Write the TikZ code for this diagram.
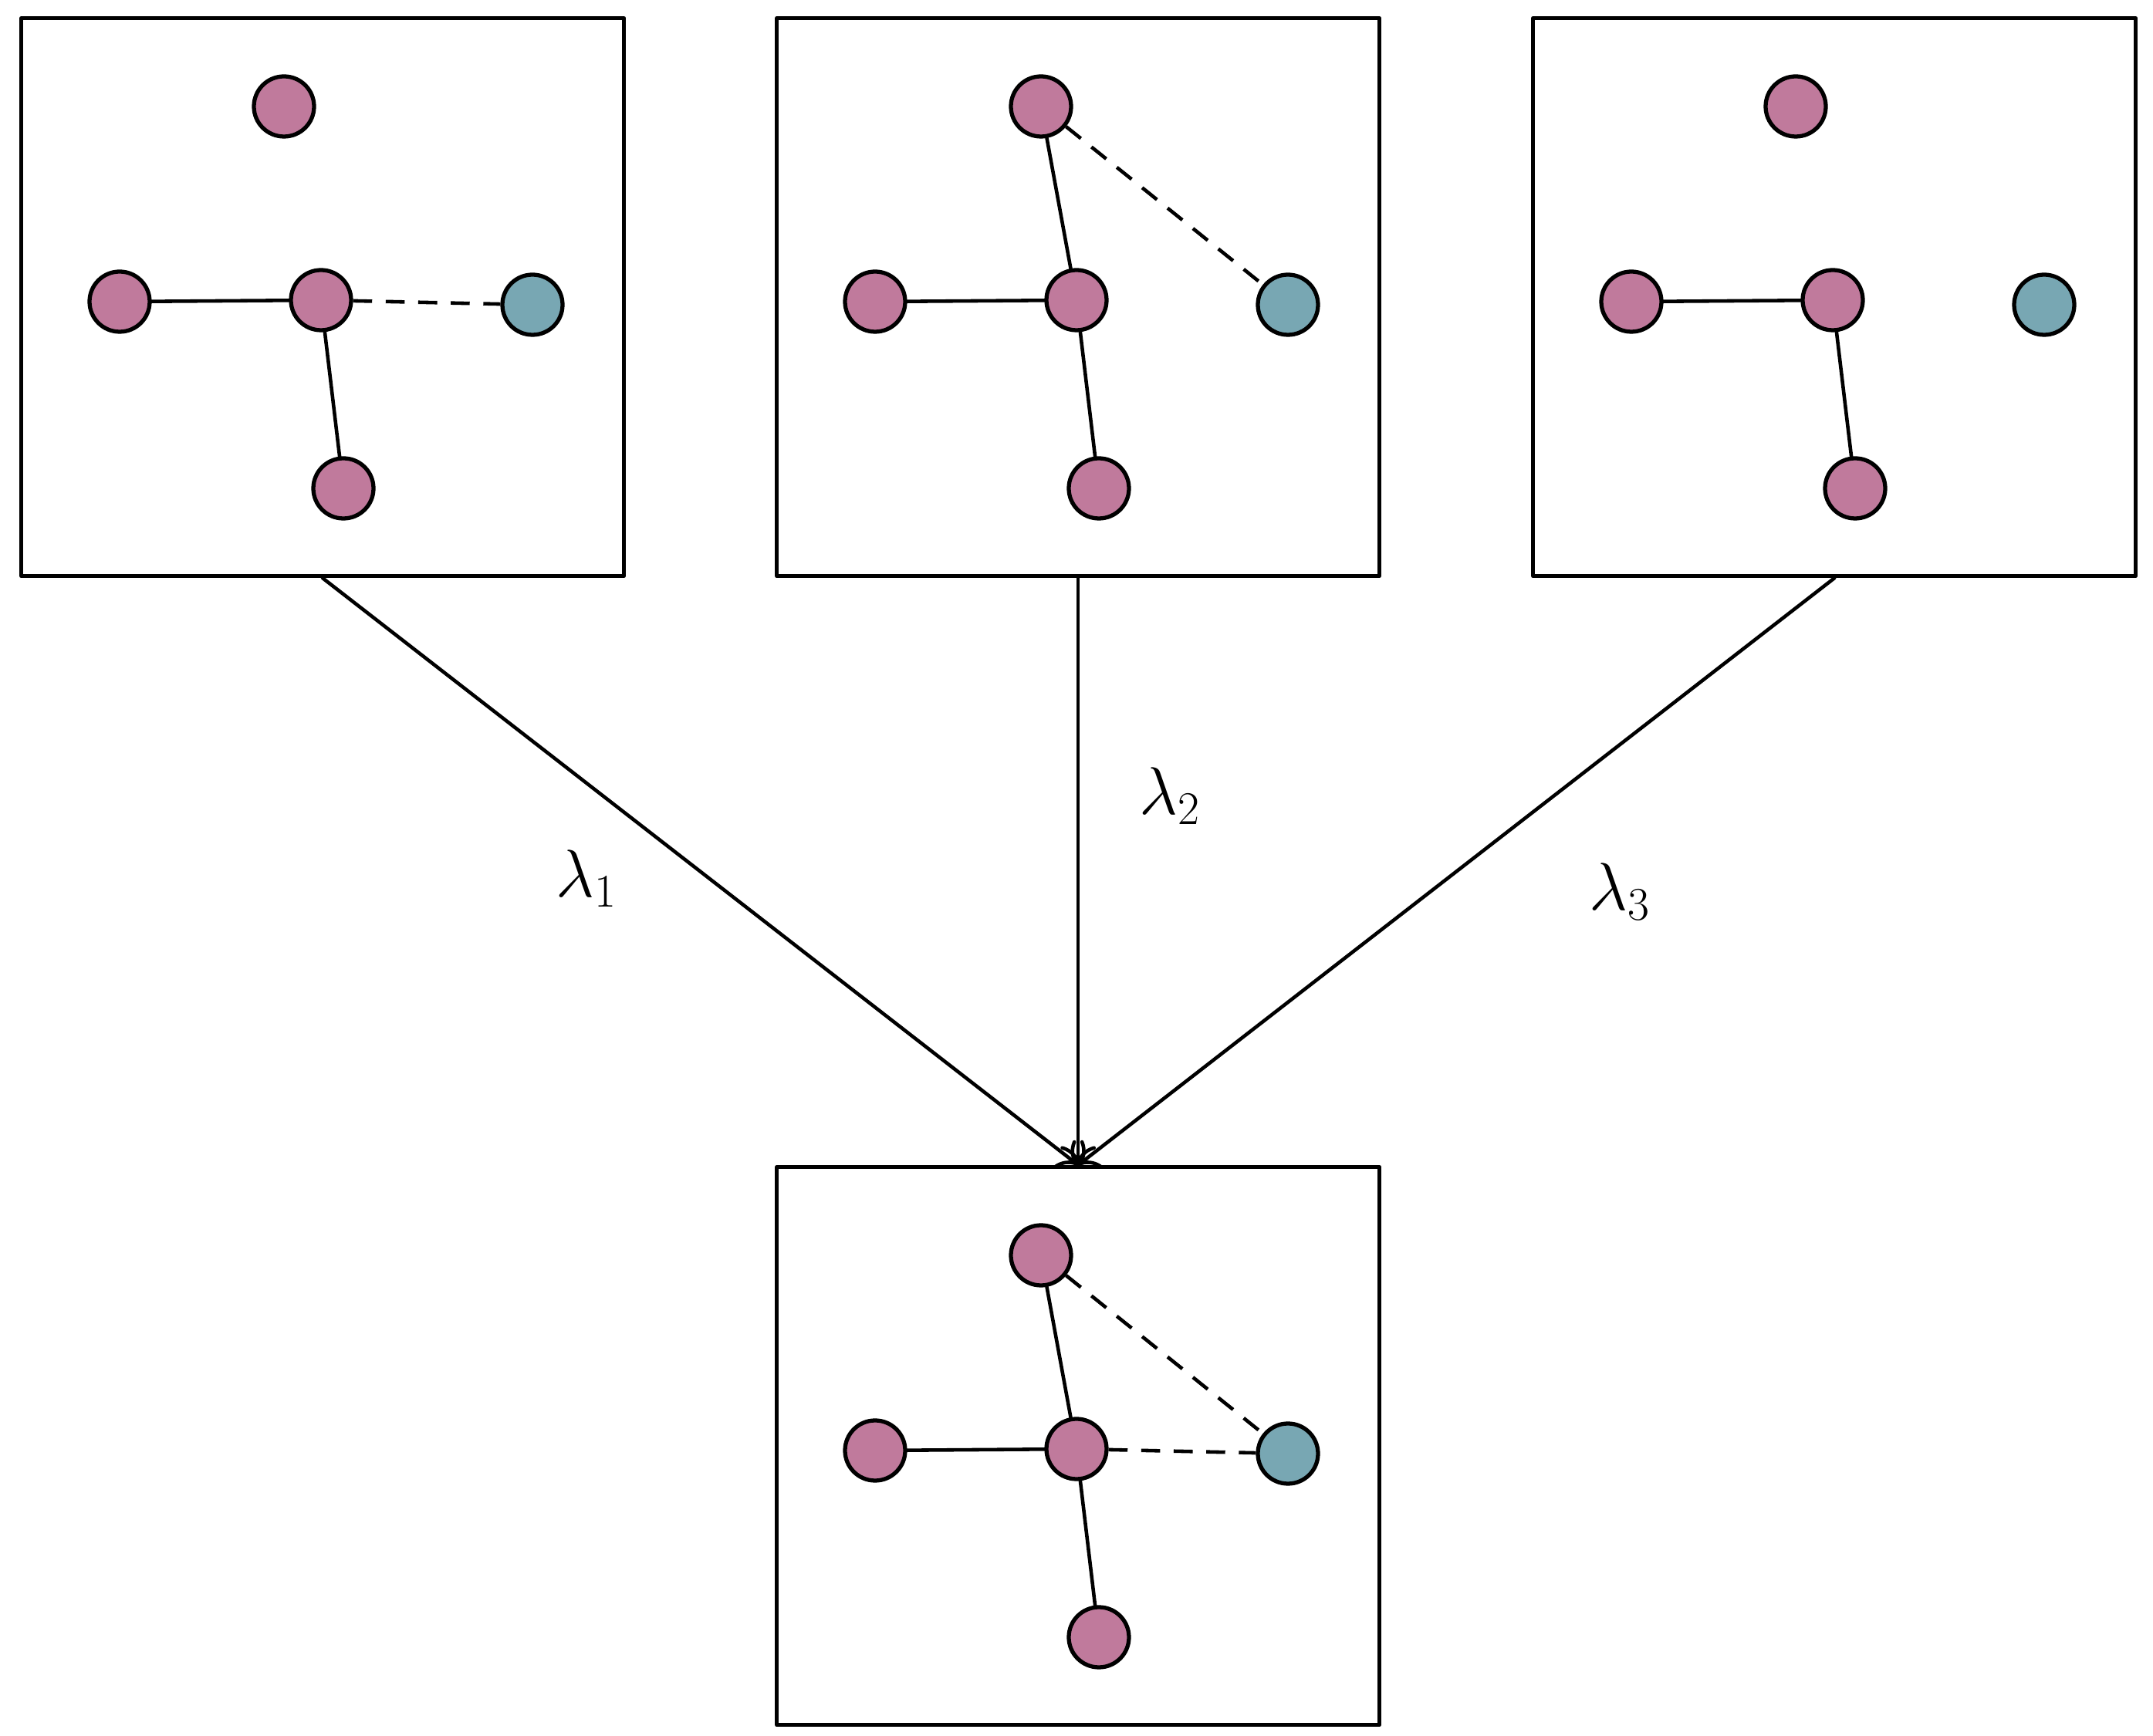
\documentclass[tikz,border=0pt]{standalone}
\usepackage{amsmath,amssymb}
\usepackage{tikz}
\usetikzlibrary{arrows.meta}

\definecolor{vpink}{HTML}{C07A9C}
\definecolor{vteal}{HTML}{78A7B3}

\begin{document}
\begin{tikzpicture}[line join=round, line cap=round,
    panel/.style={draw, line width=1.5pt, minimum width=7.81cm, minimum height=7.23cm, inner sep=0, anchor=north west},
    vtx/.style={circle, draw, line width=1.5pt, fill=vpink, minimum size=0.78cm, inner sep=0},
    vtxt/.style={vtx, fill=vteal},
    edge/.style={line width=1.3pt},
    dedge/.style={line width=1.3pt, line cap=butt, dash pattern=on 7pt off 5pt},
    flow/.style={line width=1.3pt, -{To[length=7pt,width=13pt]}},
    lab/.style={font=\fontsize{27}{32}\selectfont}]
    \useasboundingbox (0,0) rectangle (27.9,-22.5);

    % Khung 1
    \begin{scope}[shift={(0.25,-0.21)}]
        \node[panel] (p1) at (0,0) {};
        \node[vtx] (t1) at (3.43,-1.17) {};
        \node[vtx] (l1) at (1.30,-3.70) {};
        \node[vtx] (c1) at (3.91,-3.68) {};
        \node[vtxt] (s1) at (6.65,-3.74) {};
        \node[vtx] (b1) at (4.20,-6.12) {};
        \draw[edge] (l1) -- (c1);
        \draw[edge] (c1) -- (b1);
        \draw[dedge] (c1) -- (s1);
    \end{scope}

    % Khung 2
    \begin{scope}[shift={(10.04,-0.21)}]
        \node[panel] (p2) at (0,0) {};
        \node[vtx] (t2) at (3.45,-1.17) {};
        \node[vtx] (l2) at (1.30,-3.70) {};
        \node[vtx] (c2) at (3.91,-3.68) {};
        \node[vtxt] (s2) at (6.65,-3.74) {};
        \node[vtx] (b2) at (4.20,-6.12) {};
        \draw[edge] (l2) -- (c2);
        \draw[edge] (c2) -- (b2);
        \draw[edge] (t2) -- (c2);
        \draw[dedge] (t2) -- (s2);
    \end{scope}

    % Khung 3
    \begin{scope}[shift={(19.84,-0.21)}]
        \node[panel] (p3) at (0,0) {};
        \node[vtx] (t3) at (3.43,-1.17) {};
        \node[vtx] (l3) at (1.30,-3.70) {};
        \node[vtx] (c3) at (3.91,-3.68) {};
        \node[vtxt] (s3) at (6.65,-3.74) {};
        \node[vtx] (b3) at (4.20,-6.12) {};
        \draw[edge] (l3) -- (c3);
        \draw[edge] (c3) -- (b3);
    \end{scope}

    % Khung ket qua
    \begin{scope}[shift={(10.04,-15.10)}]
        \node[panel] (p4) at (0,0) {};
        \node[vtx] (t4) at (3.45,-1.17) {};
        \node[vtx] (l4) at (1.30,-3.70) {};
        \node[vtx] (c4) at (3.91,-3.68) {};
        \node[vtxt] (s4) at (6.65,-3.74) {};
        \node[vtx] (b4) at (4.20,-6.12) {};
        \draw[edge] (l4) -- (c4);
        \draw[edge] (c4) -- (b4);
        \draw[edge] (t4) -- (c4);
        \draw[dedge] (t4) -- (s4);
        \draw[dedge] (c4) -- (s4);
    \end{scope}

    % Mui ten
    \draw[flow] (p1.south) -- (p4.north);
    \draw[flow] (p2.south) -- (p4.north);
    \draw[flow] (p3.south) -- (p4.north);
    \node[lab] (lam1) at (7.60,-11.39) {$\lambda_1$};
    \node[lab] (lam2) at (15.16,-10.32) {$\lambda_2$};
    \node[lab] (lam3) at (20.99,-11.56) {$\lambda_3$};
\end{tikzpicture}
\end{document}
